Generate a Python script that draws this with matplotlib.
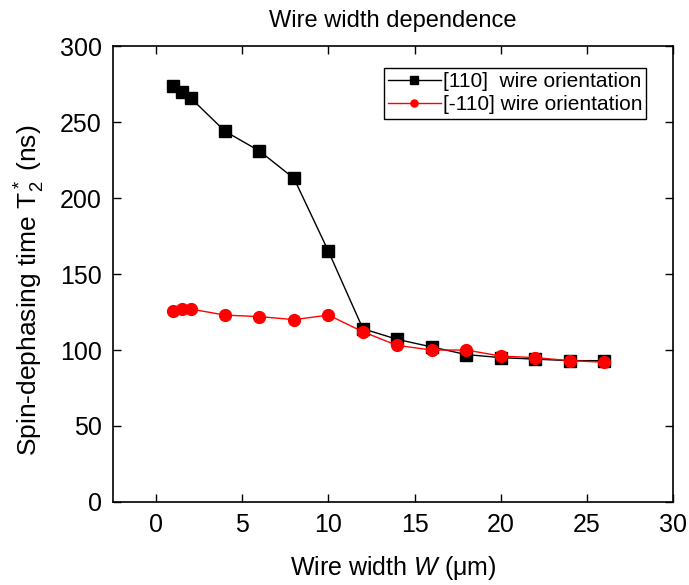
import matplotlib
matplotlib.use("Agg")
import matplotlib.pyplot as plt

plt.rcParams['font.family'] = ['Liberation Sans', 'DejaVu Sans']
plt.rcParams['mathtext.fontset'] = 'custom'
plt.rcParams['mathtext.rm'] = 'Liberation Sans'
plt.rcParams['mathtext.it'] = 'Liberation Sans:italic'

# data
width_um = [1, 1.5, 2, 4, 6, 8, 10, 12, 14, 16, 18, 20, 22, 24, 26]
t2_110 = [274, 270, 266, 244, 231, 213, 165, 114, 107, 102, 97, 95, 94, 93, 93]
t2_m110 = [126, 127, 127, 123, 122, 120, 123, 112, 103, 100, 100, 96, 95, 93, 92]

fig = plt.figure(figsize=(6.89, 5.85), dpi=100)
ax = fig.add_axes([0.164, 0.142, 0.813, 0.779])

ax.plot(width_um, t2_110, color="black", marker="s", markersize=8.5, lw=1,
        label="[110]  wire orientation")
ax.plot(width_um, t2_m110, color="red", marker="o", markersize=8.5, lw=1,
        label="[-110] wire orientation")

ax.set_xlim(-2.5, 30)
ax.set_ylim(0, 300)
ax.set_xticks([0, 5, 10, 15, 20, 25, 30])
ax.set_yticks([0, 50, 100, 150, 200, 250, 300])
ax.tick_params(direction="in", top=True, right=True, labelsize=18, length=6, width=1, pad=8)
for s in ax.spines.values():
    s.set_linewidth(1.2)

ax.set_title("Wire width dependence", fontsize=17, pad=14)
ax.set_xlabel(r"Wire width $W$ ($\mathregular{\mu}$m)", fontsize=18, labelpad=12)
ax.set_ylabel(r"Spin-dephasing time $\mathregular{T^*_2}$ (ns)", fontsize=19)
ax.yaxis.set_label_coords(-0.118, 0.465)

leg = ax.legend(loc="upper right", fontsize=15, fancybox=False, edgecolor="black",
                framealpha=1, markerscale=0.6, handlelength=2.5, handletextpad=0.1,
                borderpad=0.2, labelspacing=0.2, borderaxespad=0,
                bbox_to_anchor=(0.952, 0.952))
leg.get_frame().set_linewidth(1)

fig.savefig("out.png", dpi=100)
